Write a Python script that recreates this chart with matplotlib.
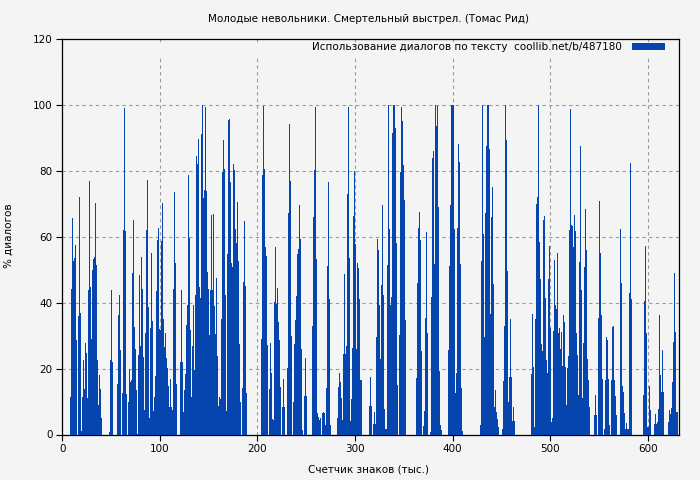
import numpy as np
from matplotlib import pyplot as plt
from matplotlib.patches import Rectangle

title = "Молодые невольники. Смертельный выстрел. (Томас Рид)"
x_label = "Счетчик знаков (тыс.)"
y_label = "% диалогов"
legend_label = "Использование диалогов по тексту  coollib.net/b/487180"

x_ticks = [0, 100, 200, 300, 400, 500, 600]
y_ticks = [0, 20, 40, 60, 80, 100, 120]

first_bin = 7.89
bin_step = 1.02466

part1 = [11.4, 44, 65.6, 52.7, 53.6, 57.5, 28.7, 0, 36, 72, 36.8, 1, 11.4, 22.6, 13.8, 27.9, 24.8, 11.1,
         43.9, 77, 44.8, 29, 50, 53.3, 53.9, 70.3, 51.5, 22.6, 8.9, 18, 13.8, 5] + [0] * 7 + [
         0.7, 22.6, 43.9, 22] + [0] * 4 + [
         15.3, 36.3, 42.4, 25.6, 0, 12.6, 62, 99.2, 61.8, 12.3, 0, 10, 20, 15.9, 16.5, 49, 65, 32.6, 26, 13.5, 0.3,
         24, 48.4, 27, 54, 44, 23.5, 7.4, 30.8, 62, 77.3, 38.7, 5, 32.3, 55, 34.4, 7, 11.3, 17.7, 43.6, 59, 62.7,
         32, 31.7, 58.8, 70.3, 35, 26.5, 30.8, 23.2, 20.2, 14.7, 8.3, 16.8, 8.3, 7.4, 44, 73.7, 52, 15.3] + [0] * 3 + [
         22, 43.9, 22, 6.8, 13.5, 18.3, 33.2, 39.3, 78.8, 59.7, 31.7, 11.3, 27, 39.3, 19.6, 42.4, 84.6, 82.2, 89.8,
         44.8, 41.4, 91.3, 100, 71.8, 74.3, 99.5, 74, 49.3, 44.2, 30.2, 43.9, 66.7, 43.9, 67, 39]

part2 = [30.5, 47.5, 23.8, 8.6, 11.3, 10.7, 35, 79.7, 89.5, 80.6, 42.4, 7, 54.8, 95.5, 95.8, 76.7, 52, 50.9,
         82.2, 80.3, 62.4, 58, 70.6, 52.7, 27.5, 10, 0, 14, 46.3, 64.8, 45, 12.6] + [0] * 14 + [
         29, 78.8, 99.8, 80.6, 57, 54.2, 27.2, 0, 13.8, 27.8, 18.6, 4.7, 4.4, 40.2, 57, 39.6, 44.5, 34, 28.7, 14.4,
         0, 8.3, 16.8, 8.3, 0, 0, 20.2, 67.3, 94.3, 77, 29.9, 0, 10, 27.5, 34.8, 42, 54.8, 56.3, 69.7, 59.4, 25.9,
         1.3, 0, 11.7, 23.2, 11.7] + [0] * 5 + [
         33, 66, 80.3, 99.5, 53.3, 6.4, 5.2, 4.4, 5, 0, 6.4, 6.8, 6.4, 3, 14, 51, 76.7, 41, 2.8] + [0] * 6 + [
         5, 14.4, 18.6, 16, 11, 4.4, 24.4, 48.7, 24.4, 27, 73, 99.5, 53.6, 4, 10.7, 26.2, 66.4, 80, 57.9, 25.9, 52,
         50.5, 41, 16.5, 16.5] + [0] * 7

part3 = [8.6, 17.4, 8.6, 0, 3.3, 6.8, 3.3, 29.6, 59.4, 56, 39.3, 22.9, 45.4, 69.7, 42.4, 7.7, 1.6, 1.6, 51.5,
         100, 62.4, 39.3, 41.7, 91.6, 100, 100, 93.1, 58.2, 15, 0, 30.2, 79.7, 99.5, 95.2, 81.9, 71.2, 34.8] + [0] * 10 + [
         17, 46, 62.7, 67.6, 59, 25.3, 0, 2.5, 7, 35.4, 61.5, 30.8, 0, 0, 0.7, 41.7, 84, 86, 51.8, 100, 93.7, 99.8,
         69, 19.3, 2.8, 1.3] + [0] * 6 + [
         25.6, 51.2, 69.7, 100, 100, 100, 62.4, 12.6, 18.6, 62.7, 88.2, 82.8, 51.8, 14, 1] + [0] * 17 + [
         2.8, 52.7, 100, 60.9, 29.6, 67.3, 87.6, 100, 100, 86.7, 36.6, 66, 75.2, 45.7, 8.3, 13.5, 6.8, 4.7, 2.2] + [0] * 3 + [
         1.6, 16.2, 33, 100, 89.5, 49.6, 9.8, 17.4, 35, 17.4, 4, 8.3, 4] + [0] * 16

part4 = [18.3, 36.6, 20.5, 2.2, 35, 70, 72.1, 100, 58.5, 47.2, 27.5, 25.3, 65.1, 66.4, 41.4, 22.6, 18.6, 47.2,
         57.2, 32.3, 3.7, 5, 31.4, 53, 39.3, 38, 55, 30.8, 32.3, 25.9, 31.1, 20.8, 36.3, 34, 20.5, 8.9, 20.2, 23.8,
         62, 98.9, 63.6, 63.3, 57, 66.7, 61.8, 30.8, 24, 12, 52.4, 87.6, 43.9, 11, 27.8, 50.9, 68.5, 56, 22.9, 16.5,
         8.3] + [0] * 4 + [
         5.9, 12, 5.9, 0, 35.4, 70.9, 55, 36.3, 16.8, 0, 1.6, 16.5, 29.6, 28.7, 16.8, 2.8, 0, 16.5, 32.6, 33, 16.5,
         11.7, 5.9] + [0] * 3 + [
         62.4, 46, 14.7, 12.9, 6.5, 1.6, 3.4, 1.6, 1.6, 43, 82.5, 41] + [0] * 11 + [
         12, 40.5, 57.2, 30.8, 2.2, 2.2, 14.7, 7.4] + [0] * 3 + [
         3.1, 6.2, 3.1, 3.7, 7.7, 36.3, 18, 12.9, 25.6, 12.9] + [0] * 4 + [
         3.7, 7.4, 6.2, 8, 15.9, 28, 49, 31.1, 6.8, 6.8]

values = np.array(part1 + part2 + part3 + part4)
x = first_bin + bin_step * np.arange(len(values))

bg = "#f4f4f4"
bar_color = "#0645ad"

plt.rcParams["font.family"] = "DejaVu Sans"
plt.rcParams["font.size"] = 7.5

fig = plt.figure(figsize=(7, 4.8), dpi=100, facecolor=bg)
ax = fig.add_axes([62.3 / 700, 1 - 434.5 / 480, 616.3 / 700, 395.5 / 480], facecolor=bg)

ax.bar(x, values, width=bin_step, align="edge", color=bar_color, linewidth=0,
       antialiased=False, zorder=3, label=legend_label)

ax.set_xlim(0, 631.5)
ax.set_ylim(0, 120)
ax.set_xticks(x_ticks)
ax.set_yticks(y_ticks)
ax.tick_params(length=4, width=0.8, color="black", pad=3)
ax.grid(True, color="#999999", linewidth=0.8, linestyle=(0, (3, 3)), zorder=1)
ax.set_axisbelow(True)
for spine in ax.spines.values():
    spine.set_linewidth(0.9)

# the key area hides the grid lines across the whole plot width
ax.add_patch(Rectangle((0, 0.954), 1, 0.036, transform=ax.transAxes, facecolor=bg,
                       edgecolor="none", zorder=2))

ax.legend(loc="upper right", bbox_to_anchor=(0.9785, 0.9925), frameon=False, borderpad=0, markerfirst=False,
          handlelength=3.2, handleheight=0.7, handletextpad=1.0, borderaxespad=0)

fig.text(369 / 700, 1 - 19 / 480, title, ha="center", va="center")
fig.text(369 / 700, 1 - 470 / 480, x_label, ha="center", va="center")
fig.text(9 / 700, 1 - 236 / 480, y_label, ha="center", va="center", rotation=90)

fig.savefig("out.png", dpi=100, facecolor=bg)
